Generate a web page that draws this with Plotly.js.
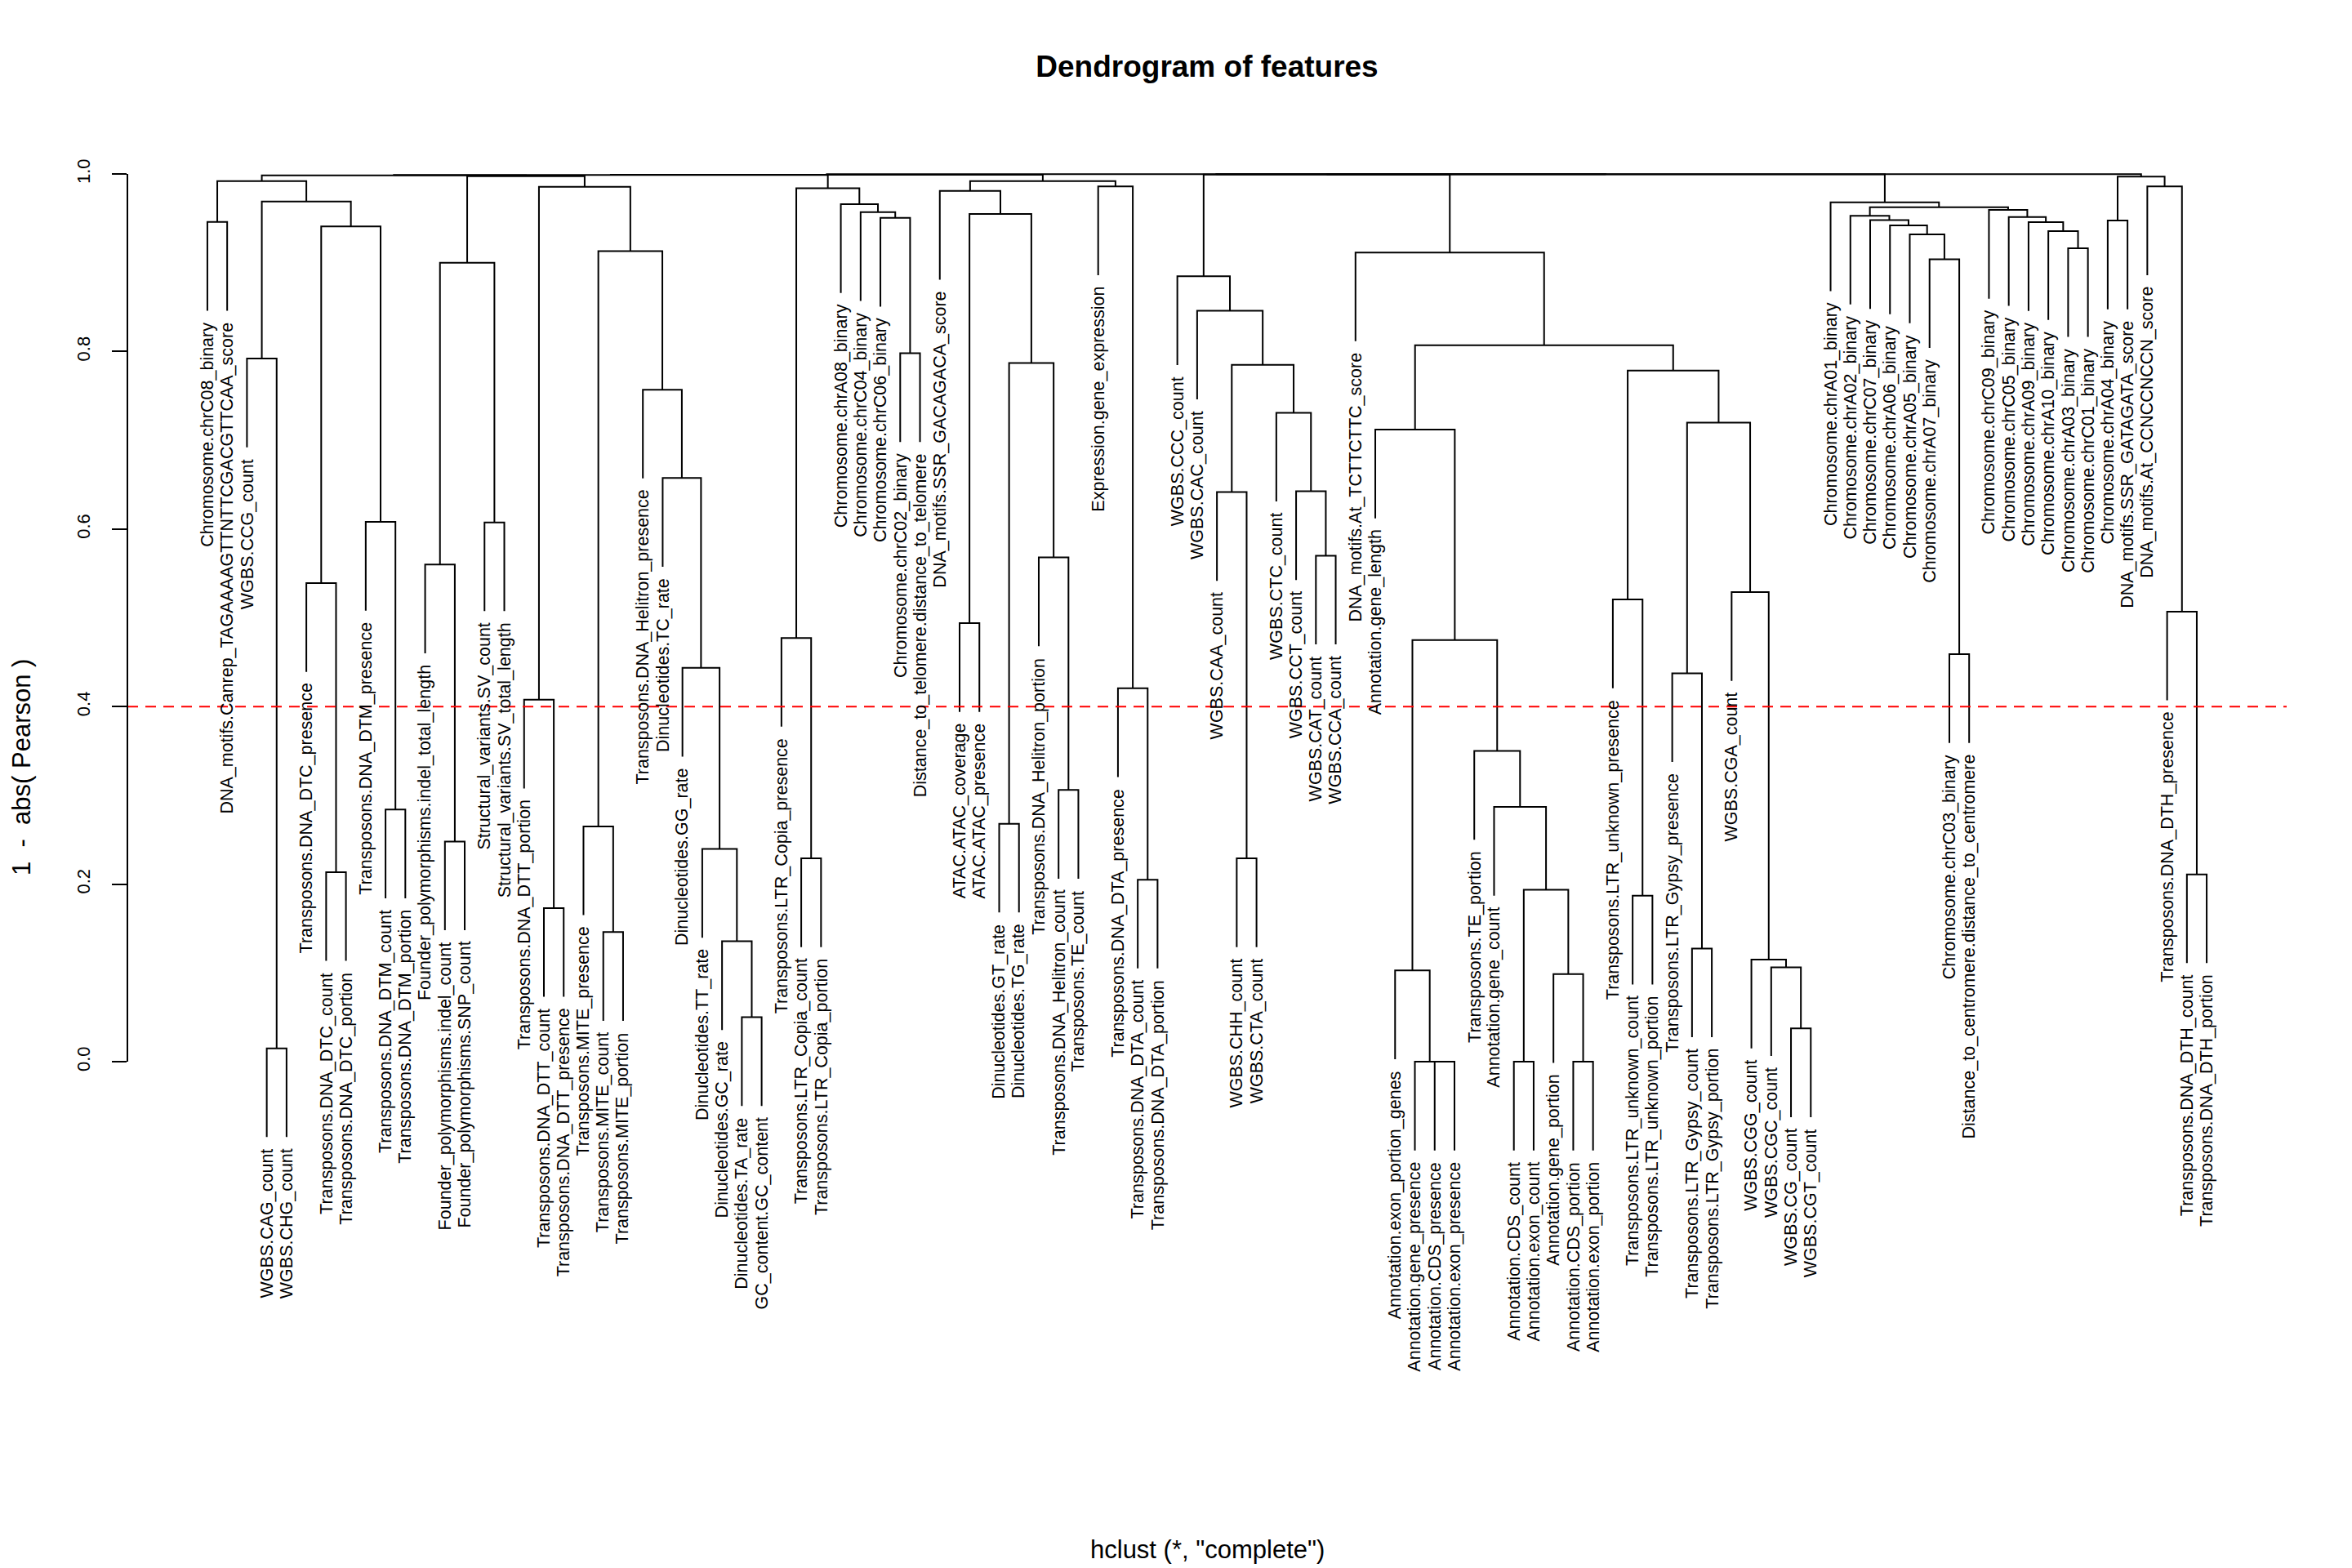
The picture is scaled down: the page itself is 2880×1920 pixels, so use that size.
<!DOCTYPE html>
<html><head><meta charset="utf-8">
<script src="https://cdn.plot.ly/plotly-3.0.1.min.js"></script>
<style>html,body{margin:0;padding:0;background:#fff}</style>
</head><body><div id="chart" style="width:2880px;height:1920px"></div>
<script>
// Leaf labels in plotted (left-to-right) order
const leafLabels = [
"Chromosome.chrC08_binary","DNA_motifs.Canrep_TAGAAAAGTTNTTCGACGTTCAA_score","WGBS.CCG_count","WGBS.CAG_count","WGBS.CHG_count",
"Transposons.DNA_DTC_presence","Transposons.DNA_DTC_count","Transposons.DNA_DTC_portion","Transposons.DNA_DTM_presence","Transposons.DNA_DTM_count","Transposons.DNA_DTM_portion",
"Founder_polymorphisms.indel_total_length","Founder_polymorphisms.indel_count","Founder_polymorphisms.SNP_count","Structural_variants.SV_count","Structural_variants.SV_total_length",
"Transposons.DNA_DTT_portion","Transposons.DNA_DTT_count","Transposons.DNA_DTT_presence","Transposons.MITE_presence","Transposons.MITE_count","Transposons.MITE_portion",
"Transposons.DNA_Helitron_presence","Dinucleotides.TC_rate","Dinucleotides.GG_rate","Dinucleotides.TT_rate","Dinucleotides.GC_rate","Dinucleotides.TA_rate","GC_content.GC_content",
"Transposons.LTR_Copia_presence","Transposons.LTR_Copia_count","Transposons.LTR_Copia_portion",
"Chromosome.chrA08_binary","Chromosome.chrC04_binary","Chromosome.chrC06_binary","Chromosome.chrC02_binary","Distance_to_telomere.distance_to_telomere",
"DNA_motifs.SSR_GACAGACA_score","ATAC.ATAC_coverage","ATAC.ATAC_presence","Dinucleotides.GT_rate","Dinucleotides.TG_rate",
"Transposons.DNA_Helitron_portion","Transposons.DNA_Helitron_count","Transposons.TE_count","Expression.gene_expression",
"Transposons.DNA_DTA_presence","Transposons.DNA_DTA_count","Transposons.DNA_DTA_portion",
"WGBS.CCC_count","WGBS.CAC_count","WGBS.CAA_count","WGBS.CHH_count","WGBS.CTA_count","WGBS.CTC_count","WGBS.CCT_count","WGBS.CAT_count","WGBS.CCA_count",
"DNA_motifs.At_TCTTCTTC_score","Annotation.gene_length","Annotation.exon_portion_genes","Annotation.gene_presence","Annotation.CDS_presence","Annotation.exon_presence",
"Transposons.TE_portion","Annotation.gene_count","Annotation.CDS_count","Annotation.exon_count","Annotation.gene_portion","Annotation.CDS_portion","Annotation.exon_portion",
"Transposons.LTR_unknown_presence","Transposons.LTR_unknown_count","Transposons.LTR_unknown_portion",
"Transposons.LTR_Gypsy_presence","Transposons.LTR_Gypsy_count","Transposons.LTR_Gypsy_portion",
"WGBS.CGA_count","WGBS.CGG_count","WGBS.CGC_count","WGBS.CG_count","WGBS.CGT_count",
"Chromosome.chrA01_binary","Chromosome.chrA02_binary","Chromosome.chrC07_binary","Chromosome.chrA06_binary","Chromosome.chrA05_binary","Chromosome.chrA07_binary",
"Chromosome.chrC03_binary","Distance_to_centromere.distance_to_centromere",
"Chromosome.chrC09_binary","Chromosome.chrC05_binary","Chromosome.chrA09_binary","Chromosome.chrA10_binary","Chromosome.chrA03_binary","Chromosome.chrC01_binary",
"Chromosome.chrA04_binary","DNA_motifs.SSR_GATAGATA_score","DNA_motifs.At_CCNCCNCCN_score",
"Transposons.DNA_DTH_presence","Transposons.DNA_DTH_count","Transposons.DNA_DTH_portion"
];

// Merge table (hclust style): negative = leaf position (1-based), positive = earlier merge row (1-based)
const mergeLeft = [
 -4,-3,-7,-6,-10,-9,4,2,-1,9,
 -13,-12,-15,12,-18,-17,-21,-20,-28,-27,-26,-25,-24,-23,18,16,14,10,
 -31,-30,-36,-35,-34,-33,30,
 -39,-41,-44,-43,37,36,-38,-48,-47,-46,42,
 -53,-52,-57,-56,-55,48,-51,-50,
 -63,-62,-61,-67,-70,-69,58,-66,-65,57,-60,-73,-72,-76,-75,-81,-80,-79,-78,69,67,65,-59,
 -89,-88,-87,-86,-85,-84,-95,-94,-93,-92,-91,83,-83,
 -97,-101,-100,-99,91,
 28,96,54,98,97,100
];
const mergeRight = [
 -5,1,-8,3,-11,5,6,7,-2,8,
 -14,11,-16,13,-19,15,-22,17,-29,19,20,21,22,23,24,25,26,27,
 -32,29,-37,31,32,33,34,
 -40,-42,-45,38,39,40,41,-49,43,44,45,
 -54,47,-58,49,50,51,52,53,
 -64,55,56,-68,-71,59,60,61,62,63,64,-74,66,-77,68,-82,70,71,72,73,74,75,76,
 -90,78,79,80,81,82,-96,84,85,86,87,88,89,
 -98,-102,92,93,94,
 35,46,77,90,99,95
];
const mergeHeight = [
 0.015,0.792,0.2135,0.539,0.284,0.608,0.941,0.969,0.946,0.992,
 0.248,0.56,0.6075,0.900,0.173,0.4077,0.146,0.265,0.05,0.1356,0.2396,0.4437,0.6575,0.757,0.913,0.9856,0.9975,0.9985,
 0.229,0.4773,0.798,0.9505,0.957,0.966,0.984,
 0.494,0.268,0.306,0.568,0.787,0.955,0.981,0.205,0.4207,0.986,0.992,
 0.229,0.6416,0.570,0.6426,0.731,0.785,0.846,0.8847,
 0,0,0.1027,0,0,0.0986,0.1937,0.287,0.350,0.475,0.712,0.187,0.5206,0.1275,0.4375,0.0374,0.1063,0.1149,0.529,0.72,0.7785,0.807,0.9116,
 0.459,0.904,0.932,0.942,0.948,0.953,0.9164,0.9356,0.9457,0.9515,0.9596,0.9626,0.968,
 0.9476,0.211,0.507,0.986,0.997,
 0.9990,0.9992,0.9993,0.9995,0.9997,0.9999
];

const cutHeight = 0.4;
const yTicks = [0, 0.2, 0.4, 0.6, 0.8, 1.0];
const yTickText = ["0.0", "0.2", "0.4", "0.6", "0.8", "1.0"];

const FONT = "Liberation Sans, Arial, Helvetica, sans-serif";
const N = leafLabels.length;
const hang = 0.1 * (Math.max(...mergeHeight) - Math.min(...mergeHeight));

const nodeX = [];
const segX = [], segY = [];
const leafBottom = new Array(N);
function ref(r, h) {
  if (r < 0) { const i = -r; leafBottom[i - 1] = h - hang; return {x: i, y: h - hang}; }
  return {x: nodeX[r - 1], y: mergeHeight[r - 1]};
}
for (let k = 0; k < mergeHeight.length; k++) {
  const h = mergeHeight[k];
  const L = ref(mergeLeft[k], h), R = ref(mergeRight[k], h);
  segX.push(L.x, L.x, R.x, R.x, null);
  segY.push(L.y, h, h, R.y, null);
  nodeX[k] = (L.x + R.x) / 2;
}

const xr = [1 - 0.04 * (N - 1), N + 0.04 * (N - 1)];

const traces = [
  {type: "scatter", mode: "lines", x: segX, y: segY, line: {color: "#000", width: 2}, hoverinfo: "skip", showlegend: false, connectgaps: false},
  {type: "scatter", mode: "lines", x: xr, y: [cutHeight, cutHeight], line: {color: "#ff0000", width: 2, dash: "13px,9px"}, hoverinfo: "skip", showlegend: false}
];

const annotations = leafLabels.map((t, i) => ({
  x: i + 1, y: leafBottom[i], xref: "x", yref: "y", text: t, showarrow: false,
  textangle: -90, xanchor: "center", yanchor: "top", yshift: -12,
  font: {family: FONT, size: 21.5, color: "#000"}
}));
annotations.push({
  xref: "paper", yref: "paper", x: -0.0492, y: 0.5, text: "1  -  abs( Pearson )", showarrow: false,
  textangle: -90, xanchor: "center", yanchor: "middle", font: {family: FONT, size: 31, color: "#000"}
});
annotations.push({
  xref: "paper", yref: "paper", x: 0.5, y: -0.1195, text: 'hclust (*, "complete")', showarrow: false,
  xanchor: "center", yanchor: "middle", font: {family: FONT, size: 31, color: "#000"}
});

const layout = {
  width: 2880, height: 1920,
  margin: {l: 156, r: 80, t: 165, b: 207, pad: 0},
  paper_bgcolor: "#fff", plot_bgcolor: "#fff",
  title: {text: "<b>Dendrogram of features</b>", xref: "paper", x: 0.5, xanchor: "center",
          yref: "container", y: 1 - 81 / 1920, yanchor: "middle", font: {family: FONT, size: 37, color: "#000"}},
  xaxis: {range: xr, visible: false, showgrid: false, zeroline: false, fixedrange: true},
  yaxis: {range: [-0.38, 1.0442], tickvals: yTicks, ticktext: yTickText, ticks: "outside", ticklen: 18, tickwidth: 2,
          tickcolor: "#000", tickangle: -90, ticklabelstandoff: 18, tickfont: {family: FONT, size: 22, color: "#000"},
          showgrid: false, zeroline: false, showline: false, fixedrange: true},
  shapes: [{type: "line", xref: "paper", yref: "y", x0: 0, x1: 0, y0: yTicks[0], y1: yTicks[yTicks.length - 1], line: {color: "#000", width: 2}}],
  annotations: annotations,
  showlegend: false
};

Plotly.newPlot("chart", traces, layout, {staticPlot: true, displayModeBar: false});
</script>
</body></html>
